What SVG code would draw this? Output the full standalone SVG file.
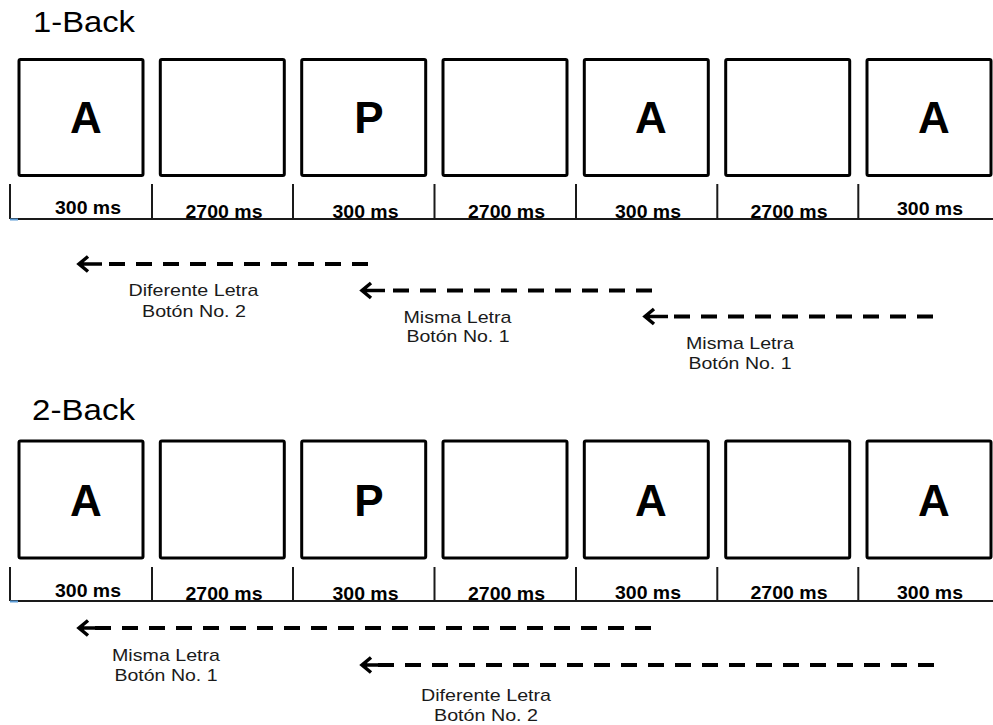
<svg xmlns="http://www.w3.org/2000/svg" width="993" height="725" viewBox="0 0 993 725">
<style>
  .title { font-family: "Liberation Sans", Arial, sans-serif; font-size: 29px; fill: #000; }
  .box { fill: #fff; stroke: #000; stroke-width: 3; }
  .letter { font-family: "Liberation Sans", Arial, sans-serif; font-size: 44px; font-weight: bold; text-anchor: middle; fill: #000; }
  .dur { font-family: "Liberation Sans", Arial, sans-serif; font-size: 18.5px; font-weight: bold; text-anchor: middle; fill: #000; }
  .axis { stroke: #1a1a1a; stroke-width: 2; fill: none; }
  .dash { stroke: #000; stroke-width: 4; stroke-dasharray: 16 11; fill: none; }
  .head { stroke: #000; stroke-width: 3.5; fill: none; stroke-linecap: butt; stroke-linejoin: miter; }
  .lbl { font-family: "Liberation Sans", Arial, sans-serif; font-size: 17px; text-anchor: middle; fill: #1a1a1a; }
</style>

<!-- 1-Back -->
<text id="title-1back" class="title" x="33" y="32" textLength="102" lengthAdjust="spacingAndGlyphs">1-Back</text>

<g id="b1-s1"><rect class="box" x="19" y="59.5" width="124" height="116" rx="1.5"/><text class="letter" x="86" y="133">A</text></g>
<g id="b1-s2"><rect class="box" x="160.3" y="59.5" width="124" height="116" rx="1.5"/></g>
<g id="b1-s3"><rect class="box" x="301.7" y="59.5" width="124" height="116" rx="1.5"/><text class="letter" x="369" y="133">P</text></g>
<g id="b1-s4"><rect class="box" x="443" y="59.5" width="124" height="116" rx="1.5"/></g>
<g id="b1-s5"><rect class="box" x="584.3" y="59.5" width="124" height="116" rx="1.5"/><text class="letter" x="651" y="133">A</text></g>
<g id="b1-s6"><rect class="box" x="725.7" y="59.5" width="124" height="116" rx="1.5"/></g>
<g id="b1-s7"><rect class="box" x="867" y="59.5" width="124" height="116" rx="1.5"/><text class="letter" x="934" y="133">A</text></g>

<g id="b1-timeline">
  <path class="axis" d="M10,219 H993 M10,184 V219 M152,184 V219 M293,184 V219 M434.5,184 V219 M576,184 V219 M717.3,184 V219 M858.3,184 V219"/>
  <line x1="10" y1="219.5" x2="18" y2="219.5" stroke="#5b9bd5" stroke-width="2"/>
  <text class="dur" x="88" y="214" textLength="66" lengthAdjust="spacingAndGlyphs">300 ms</text>
  <text class="dur" x="224" y="218" textLength="77" lengthAdjust="spacingAndGlyphs">2700 ms</text>
  <text class="dur" x="365.5" y="218" textLength="66" lengthAdjust="spacingAndGlyphs">300 ms</text>
  <text class="dur" x="506.5" y="218" textLength="77" lengthAdjust="spacingAndGlyphs">2700 ms</text>
  <text class="dur" x="648" y="217.5" textLength="66" lengthAdjust="spacingAndGlyphs">300 ms</text>
  <text class="dur" x="789" y="218" textLength="77" lengthAdjust="spacingAndGlyphs">2700 ms</text>
  <text class="dur" x="930" y="215" textLength="66" lengthAdjust="spacingAndGlyphs">300 ms</text>
</g>

<g id="connectors">
  <!-- 1-Back arrows -->
  <g id="c1-1">
    <path class="dash" d="M368,264 H108"/>
    <path class="head" d="M88,256.5 L79,264 L88,271.5 M79,264 H102"/>
  </g>
  <g id="c1-2">
    <path class="dash" d="M652,290.5 H391"/>
    <path class="head" d="M371,283 L362,290.5 L371,298 M362,290.5 H385"/>
  </g>
  <g id="c1-3">
    <path class="dash" d="M933,316.5 H674"/>
    <path class="head" d="M654,309 L645,316.5 L654,324 M645,316.5 H668"/>
  </g>
  <!-- 2-Back arrows -->
  <g id="c2-1">
    <path class="dash" d="M651,628 H83"/>
    <path class="head" d="M88,620.5 L79,628 L88,635.5 M79,628 H102"/>
  </g>
  <g id="c2-2">
    <path class="dash" d="M934,665 H366"/>
    <path class="head" d="M371,657.5 L362,665 L371,672.5 M362,665 H385"/>
  </g>
</g>

<g id="labels-1back">
  <text class="lbl" x="193.5" y="296" textLength="130" lengthAdjust="spacingAndGlyphs">Diferente Letra</text>
  <text class="lbl" x="194" y="317" textLength="104" lengthAdjust="spacingAndGlyphs">Botón No. 2</text>
  <text class="lbl" x="457.5" y="323" textLength="108" lengthAdjust="spacingAndGlyphs">Misma Letra</text>
  <text class="lbl" x="458" y="342" textLength="103" lengthAdjust="spacingAndGlyphs">Botón No. 1</text>
  <text class="lbl" x="740" y="349" textLength="108" lengthAdjust="spacingAndGlyphs">Misma Letra</text>
  <text class="lbl" x="740" y="369" textLength="103" lengthAdjust="spacingAndGlyphs">Botón No. 1</text>
</g>

<!-- 2-Back -->
<text id="title-2back" class="title" x="32" y="420" textLength="103" lengthAdjust="spacingAndGlyphs">2-Back</text>

<g id="b2-s1"><rect class="box" x="19" y="441" width="124" height="117" rx="1.5"/><text class="letter" x="86" y="516">A</text></g>
<g id="b2-s2"><rect class="box" x="160.3" y="441" width="124" height="117" rx="1.5"/></g>
<g id="b2-s3"><rect class="box" x="301.7" y="441" width="124" height="117" rx="1.5"/><text class="letter" x="369" y="516">P</text></g>
<g id="b2-s4"><rect class="box" x="443" y="441" width="124" height="117" rx="1.5"/></g>
<g id="b2-s5"><rect class="box" x="584.3" y="441" width="124" height="117" rx="1.5"/><text class="letter" x="651" y="516">A</text></g>
<g id="b2-s6"><rect class="box" x="725.7" y="441" width="124" height="117" rx="1.5"/></g>
<g id="b2-s7"><rect class="box" x="867" y="441" width="124" height="117" rx="1.5"/><text class="letter" x="934" y="516">A</text></g>

<g id="b2-timeline">
  <path class="axis" d="M10,601 H993 M10,567 V601 M152,567 V601 M293,567 V601 M434.5,567 V601 M576,567 V601 M717.3,567 V601 M858.3,567 V601"/>
  <line x1="10" y1="601.5" x2="18" y2="601.5" stroke="#5b9bd5" stroke-width="2"/>
  <text class="dur" x="88" y="596.5" textLength="66" lengthAdjust="spacingAndGlyphs">300 ms</text>
  <text class="dur" x="224" y="600" textLength="77" lengthAdjust="spacingAndGlyphs">2700 ms</text>
  <text class="dur" x="365.5" y="600" textLength="66" lengthAdjust="spacingAndGlyphs">300 ms</text>
  <text class="dur" x="506.5" y="600" textLength="77" lengthAdjust="spacingAndGlyphs">2700 ms</text>
  <text class="dur" x="648" y="599" textLength="66" lengthAdjust="spacingAndGlyphs">300 ms</text>
  <text class="dur" x="789" y="599" textLength="77" lengthAdjust="spacingAndGlyphs">2700 ms</text>
  <text class="dur" x="930" y="599" textLength="66" lengthAdjust="spacingAndGlyphs">300 ms</text>
</g>

<g id="labels-2back">
  <text class="lbl" x="166" y="661" textLength="108" lengthAdjust="spacingAndGlyphs">Misma Letra</text>
  <text class="lbl" x="166" y="681" textLength="103" lengthAdjust="spacingAndGlyphs">Botón No. 1</text>
  <text class="lbl" x="486" y="700.5" textLength="130" lengthAdjust="spacingAndGlyphs">Diferente Letra</text>
  <text class="lbl" x="486" y="721" textLength="104" lengthAdjust="spacingAndGlyphs">Botón No. 2</text>
</g>
</svg>
